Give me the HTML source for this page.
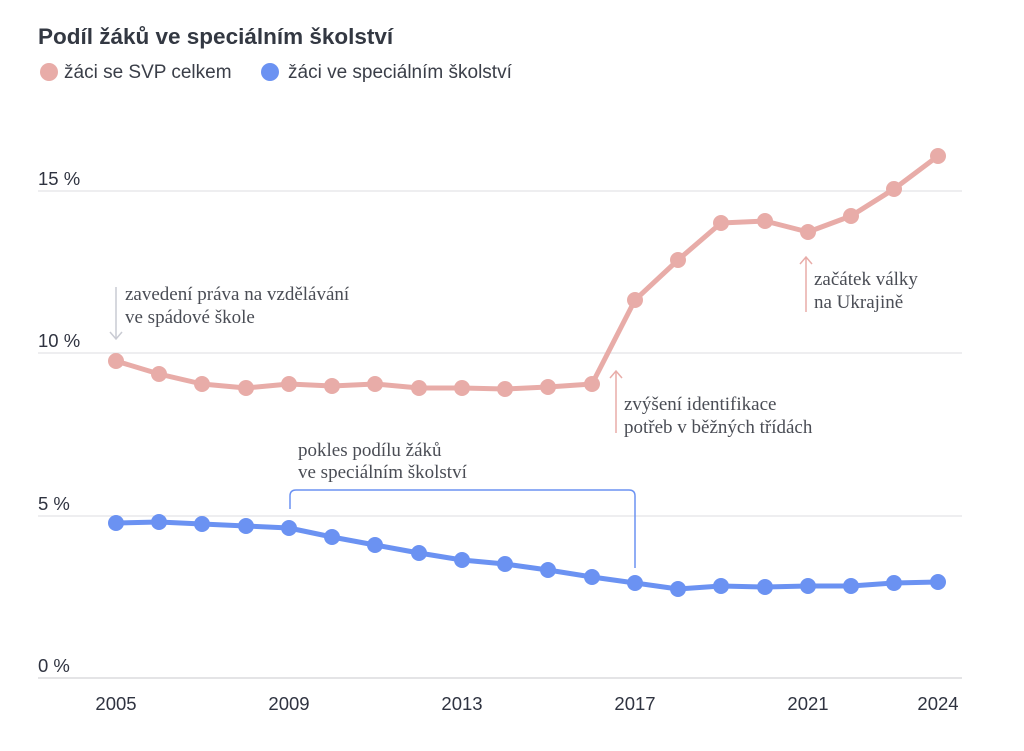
<!DOCTYPE html>
<html><head><meta charset="utf-8"><style>
body{margin:0;background:#fff;width:1024px;height:751px;overflow:hidden}
svg{display:block}
.s{font-family:"Liberation Sans",sans-serif}
.a{font-family:"Liberation Serif",serif;font-size:19px;fill:#4a4d55}
.t{font-size:18.5px;fill:#2f3340}
</style></head><body>
<svg width="1024" height="751" class="s">
<text x="38" y="44" font-size="22.5" font-weight="bold" fill="#333842">Podíl žáků ve speciálním školství</text>
<circle cx="49" cy="72" r="9" fill="#e8aca8"/>
<text x="64" y="78" font-size="19" fill="#3a3e48">žáci se SVP celkem</text>
<circle cx="270" cy="72" r="9" fill="#6b92f2"/>
<text x="288" y="78" font-size="19" fill="#3a3e48">žáci ve speciálním školství</text>
<g stroke="#dcdce0" stroke-width="1">
<line x1="38" y1="191" x2="962" y2="191"/><line x1="38" y1="353" x2="962" y2="353"/>
<line x1="38" y1="516" x2="962" y2="516"/><line x1="38" y1="678" x2="962" y2="678" stroke="#c8c8cc"/>
</g>
<g class="t">
<text x="38" y="185">15 %</text><text x="38" y="347">10 %</text><text x="38" y="510">5 %</text><text x="38" y="672">0 %</text>
<text x="116" y="710" text-anchor="middle">2005</text><text x="289" y="710" text-anchor="middle">2009</text>
<text x="462" y="710" text-anchor="middle">2013</text><text x="635" y="710" text-anchor="middle">2017</text>
<text x="808" y="710" text-anchor="middle">2021</text><text x="938" y="710" text-anchor="middle">2024</text>
</g>
<g id="p" fill="#e8aca8" stroke="#e8aca8">
<polyline fill="none" stroke-width="5" stroke-linejoin="round" points="116,361 159,374 202,384 246,388 289,384 332,386 375,384 419,388 462,388 505,389 548,387 592,384 635,300 678,260 721,223 765,221 808,232 851,216 894,189 938,156"/>
</g>
<g id="b" fill="#6b92f2" stroke="#6b92f2">
<polyline fill="none" stroke-width="5" stroke-linejoin="round" points="116,523 159,522 202,524 246,526 289,528 332,537 375,545 419,553 462,560 505,564 548,570 592,577 635,583 678,589 721,586 765,587 808,586 851,586 894,583 938,582"/>
</g>
<script>
var xs=[116,159,202,246,289,332,375,419,462,505,548,592,635,678,721,765,808,851,894,938];
var p=[361,374,384,388,384,386,384,388,388,389,387,384,300,260,223,221,232,216,189,156];
var b=[523,522,524,526,528,537,545,553,560,564,570,577,583,589,586,587,586,586,583,582];
function add(id,ys){var g=document.getElementById(id);xs.forEach(function(x,i){var c=document.createElementNS("http://www.w3.org/2000/svg","circle");c.setAttribute("cx",x);c.setAttribute("cy",ys[i]);c.setAttribute("r",8);c.setAttribute("stroke","none");g.appendChild(c);});}
add("p",p);add("b",b);
</script>
<g stroke="#c9cbd3" stroke-width="1.5" fill="none">
<line x1="116" y1="287" x2="116" y2="338"/><polyline points="110,332 116,339 122,332"/>
</g>
<text class="a" x="125" y="300">zavedení práva na vzdělávání</text>
<text class="a" x="125" y="323">ve spádové škole</text>
<g stroke="#e8aca8" stroke-width="1.5" fill="none">
<line x1="616" y1="372" x2="616" y2="433"/><polyline points="610,378 616,371 622,378"/>
<line x1="806" y1="258" x2="806" y2="312"/><polyline points="800,264 806,257 812,264"/>
</g>
<text class="a" x="624" y="410">zvýšení identifikace</text>
<text class="a" x="624" y="433">potřeb v běžných třídách</text>
<text class="a" x="814" y="285">začátek války</text>
<text class="a" x="814" y="308">na Ukrajině</text>
<path d="M290,509 V496 Q290,490 296,490 H629 Q635,490 635,496 V568" stroke="#6b92f2" stroke-width="1.5" fill="none"/>
<text class="a" x="298" y="456">pokles podílu žáků</text>
<text class="a" x="298" y="478">ve speciálním školství</text>
</svg>
</body></html>
